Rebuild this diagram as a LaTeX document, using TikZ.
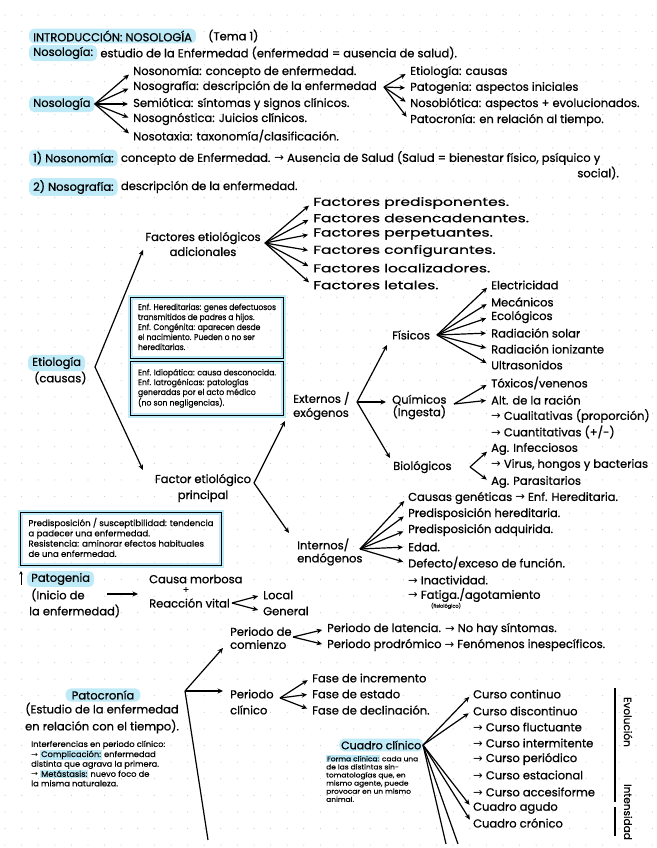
\documentclass[tikz,border=0pt]{standalone}
\usepackage{fontspec}
\usepackage{graphicx}
\setmainfont{Poppins}[FakeBold=0.8]
\newfontfamily\djv{DejaVu Sans}
\newfontfamily\wide{Poppins}[FakeStretch=1.35,FakeBold=0.8]
\newfontfamily\smf{Poppins}[FakeBold=0.5]
\usetikzlibrary{arrows.meta,calc}
\definecolor{hlc}{HTML}{BFEAF7}
\newcommand\myfs[2]{\fontsize{#1}{#2}\selectfont}
\newcommand\ra{{\djv\char"2192}}
\newcommand\hlw[1]{{\setlength{\fboxsep}{0.8pt}\colorbox{hlc}{#1}}}
\newcommand\fitbox[3]{\resizebox*{#1}{#2}{\smf\myfs{7}{8.4}\begin{tabular}{@{}l@{}}#3\end{tabular}}}
\begin{document}
\begin{tikzpicture}[x=1pt,y=-1pt,
  tx/.style={anchor=west,inner sep=1pt,font=\myfs{11.5}{14}},
  wtx/.style={anchor=west,inner sep=1pt,font=\wide\myfs{11.5}{14}},
  hl/.style={fill=hlc,rounded corners=5pt,inner xsep=4pt,inner ysep=2pt},
  sm/.style={anchor=north west,inner sep=0pt},
  arr/.style={-{Stealth[length=5.5pt,width=5pt]},line width=1.2pt},
  farr/.style={arr,shorten >=4pt},
  ln/.style={line width=1.2pt},
  bx/.style={draw=black,line width=1pt,preaction={draw=hlc,line width=5pt},anchor=north west},
]
\fill[white] (0,0) rectangle (656,848);
\useasboundingbox (0,0) rectangle (656,848);
\foreach \i in {0,...,39}{\foreach \j in {0,...,51}{\fill[gray!40] (5+16.6*\i,-1.5+16.6*\j) circle[radius=0.6pt];}}

% ---------- title ----------
\node[tx,hl,font=\myfs{11.5}{12}] (title) at (29,36) {INTRODUCCIÓN: NOSOLOGÍA};
\node[tx] (tema) at (207,36) {(Tema 1)};
\node[tx,hl] (nsl) at (29,53) {Nosología:};
\node[tx] (nslb) at ($(nsl.east)+(2,0)$) {estudio de la Enfermedad (enfermedad = ausencia de salud).};

% ---------- Nosologia fan ----------
\node[tx,hl] (nos) at (29,104) {Nosología};
\node[tx] (a1) at (132,72) {Nosonomía: concepto de enfermedad.};
\node[tx] (a2) at (132,87) {Nosografía: descripción de la enfermedad};
\node[tx] (a3) at (132,104) {Semiótica: síntomas y signos clínicos.};
\node[tx] (a4) at (132,119) {Nosognóstica: Juicios clínicos.};
\node[tx] (a5) at (132,136) {Nosotaxia: taxonomía/clasificación.};
\foreach \t in {a1,a2,a3,a4,a5}{\draw[farr] (nos.east) -- (\t.west);}
\coordinate (v2) at ($(a2.east)+(6,0)$);
\node[tx] (b1) at (409,72) {Etiología: causas};
\node[tx] (b2) at (409,88) {Patogenia: aspectos iniciales};
\node[tx] (b3) at (409,104) {Nosobiótica: aspectos + evolucionados.};
\node[tx] (b4) at (409,120) {Patocronía: en relación al tiempo.};
\foreach \t in {b1,b2,b3,b4}{\draw[farr] (v2) -- (\t.west);}

% ---------- 1) 2) ----------
\node[tx,hl] (l1) at (29,158) {1) Nosonomía:};
\node[tx] (l1b) at ($(l1.east)+(2,0)$) {concepto de Enfermedad. \ra{} Ausencia de Salud (Salud = bienestar físico, psíquico y};
\node[tx,anchor=east] (l1c) at (620,173) {social).};
\node[tx,hl] (l2) at (29,187) {2) Nosografía:};
\node[tx] (l2b) at ($(l2.east)+(2,0)$) {descripción de la enfermedad.};

% ---------- Factores adicionales ----------
\node[inner sep=1pt,align=center,font=\myfs{11.5}{15}] (fea) at (203,244) {Factores etiológicos\\adicionales};
\coordinate (fv) at (265,243);
\node[wtx] (f1) at (312,203) {Factores predisponentes.};
\node[wtx] (f2) at (312,218) {Factores desencadenantes.};
\node[wtx] (f3) at (312,234) {Factores perpetuantes.};
\node[wtx] (f4) at (312,251) {Factores configurantes.};
\node[wtx] (f5) at (312,268) {Factores localizadores.};
\node[wtx] (f6) at (312,285) {Factores letales.};
\foreach \t in {f1,f2,f3,f4,f5,f6}{\draw[farr] (fv) -- (\t.west);}

% ---------- Etiologia ----------
\node[tx,hl] (eti) at (28,363) {Etiología};
\node[tx] (eti2) at (33,378) {(causas)};
\coordinate (ev) at (95,367);
\coordinate (tfea) at (143,250);
\coordinate (tfep) at (143,470);
\draw[arr] (ev) -- (tfea);
\draw[arr] (ev) -- (tfep);

\node[bx,inner xsep=7.5pt,inner ysep=5.5pt] (bx1) at (130,297) {\fitbox{138pt}{50pt}{Enf. Hereditarias: genes defectuosos\\transmitidos de padres a hijos.\\Enf. Congénita: aparecen desde\\el nacimiento. Pueden o no ser\\hereditarias.}};
\node[bx,inner xsep=7.5pt,inner ysep=7pt] (bx2) at (130,361) {\fitbox{138pt}{40pt}{Enf. Idiopática: causa desconocida.\\Enf. Iatrogénicas: patologías\\generadas por el acto médico\\(no son negligencias).}};

% ---------- Factor principal ----------
\node[inner sep=1pt,align=center,font=\myfs{11.5}{16}] (fep) at (203,488) {Factor etiológico\\principal};
\coordinate (pv0) at (254,483);
\coordinate (text) at (285,421);
\coordinate (tint) at (289,533);
\draw[arr] (pv0) -- (text);
\draw[arr] (pv0) -- (tint);

% ---------- Externos ----------
\node[tx,align=left,font=\myfs{11.5}{14}] (ext) at (292,406) {Externos /\\exógenos};
\coordinate (xv) at (357,402);
\coordinate (tfis) at (387,345);
\coordinate (tqui) at (386,402);
\coordinate (tbio) at (390,458);
\draw[arr] (xv) -- (tfis);
\draw[arr] (xv) -- (tqui);
\draw[arr] (xv) -- (tbio);

\node[tx] (fis) at (391,335) {Físicos};
\coordinate (fsv) at (437,335);
\node[tx] (g1) at (490,285) {Electricidad};
\node[tx] (g2) at (490,302) {Mecánicos};
\node[tx] (g3) at (490,317) {Ecológicos};
\node[tx] (g4) at (490,333) {Radiación solar};
\node[tx] (g5) at (490,349) {Radiación ionizante};
\node[tx] (g6) at (490,365) {Ultrasonidos};
\foreach \t in {g1,g2,g3,g4,g5,g6}{\draw[farr] (fsv) -- (\t.west);}

\node[tx,align=center,font=\myfs{11.5}{12.5}] (qui) at (391,407) {Químicos\\(Ingesta)};
\coordinate (qv) at (454,404);
\node[tx] (h1) at (490,383) {Tóxicos/venenos};
\node[tx] (h2) at (490,400) {Alt. de la ración};
\node[tx] (h3) at (490,416) {\ra{} Cualitativas (proporción)};
\node[tx] (h4) at (490,432) {\ra{} Cuantitativas (+/-)};
\draw[farr] (qv) -- (h1.west);
\draw[farr] (qv) -- (h2.west);

\node[tx] (bio) at (392,467) {Biológicos};
\coordinate (bv) at (470,467);
\node[tx] (h5) at (490,449) {Ag. Infecciosos};
\node[tx] (h6) at (490,465) {\ra{} Virus, hongos y bacterias};
\node[tx] (h7) at (490,482) {Ag. Parasitarios};
\draw[farr] (bv) -- (h5.west);
\draw[farr] (bv) -- (h7.west);

% ---------- Internos ----------
\node[tx,align=left,font=\myfs{11.5}{13}] (int) at (296,552) {Internos/\\endógenos};
\coordinate (iv) at (360,549);
\node[tx] (i1) at (407,498) {Causas genéticas \ra{} Enf. Hereditaria.};
\node[tx] (i2) at (407,514) {Predisposición hereditaria.};
\node[tx] (i3) at (407,530) {Predisposición adquirida.};
\node[tx] (i4) at (407,547) {Edad.};
\node[tx] (i5) at (407,563) {Defecto/exceso de función.};
\node[tx] (i6) at (407,580) {\ra{} Inactividad.};
\node[tx] (i7) at (407,595) {\ra{} Fatiga./agotamiento};
\node[inner sep=0pt,font=\smf\myfs{5}{6}] (i8) at (446,606) {(fisiológico)};
\foreach \t in {i1,i2,i3,i4,i5}{\draw[farr] (iv) -- (\t.west);}

% ---------- Patogenia ----------
\node[bx,inner xsep=8pt,inner ysep=5.5pt] (bx3) at (20,512) {\fitbox{185pt}{42pt}{Predisposición / susceptibilidad: tendencia\\a padecer una enfermedad.\\Resistencia: aminorar efectos habituales\\de una enfermedad.}};
\node[tx,hl] (pat) at (27,579) {Patogenia};
\coordinate (pu1) at (21,585);
\coordinate (pu2) at (21,571);
\draw[-{Stealth[length=3.5pt,width=3.5pt]},line width=1pt] (pu1) -- (pu2);
\node[tx] (pat2) at (30,595) {(Inicio de};
\node[tx] (pat3) at (28,611) {la enfermedad)};
\coordinate (pa1) at (107,594);
\coordinate (pa2) at (138,594);
\draw[arr] (pa1) -- (pa2);
\node[tx] (cm) at (148,579) {Causa morbosa};
\node[inner sep=0pt,font=\myfs{9}{10}] (pl) at (186,590) {+};
\node[tx] (rv) at (148,603) {Reacción vital};
\coordinate (rvv) at (232,603);
\node[tx] (loc) at (262,595) {Local};
\node[tx] (gen) at (262,611) {General};
\draw[farr] (rvv) -- (loc.west);
\draw[farr] (rvv) -- (gen.west);

% ---------- Patocronia ----------
\node[hl,inner sep=2pt,inner xsep=6pt,font=\myfs{11.5}{14}] (pcr) at (103,695) {Patocronía};
\node[inner sep=1pt,align=center,font=\myfs{11.5}{17}] (pcr2) at (102,718) {(Estudio de la enfermedad\\en relación con el tiempo).};
\node[sm] (inf) at (31,740) {\fitbox{134pt}{49pt}{Interferencias en periodo clínico:\\\ra{} \hlw{Complicación:} enfermedad\\distinta que agrava la primera.\\\ra{} \hlw{Metástasis:} nuevo foco de\\la misma naturaleza.}};

\coordinate (pv) at (185,691);
\coordinate (tpc) at (223,648);
\coordinate (tpcl) at (223,691);
\coordinate (pend) at (208,840);
\draw[arr] (pv) -- (tpc);
\draw[arr] (pv) -- (tpcl);
\draw[ln] (pv) -- (pend);

\node[tx,align=left,font=\myfs{11.5}{13}] (pc) at (229,638) {Periodo de\\comienzo};
\coordinate (pcv) at (293,637);
\node[tx] (pc1) at (326,629) {Periodo de latencia. \ra{} No hay síntomas.};
\node[tx] (pc2) at (326,645) {Periodo prodrómico \ra{} Fenómenos inespecíficos.};
\draw[farr] (pcv) -- (pc1.west);
\draw[farr] (pcv) -- (pc2.west);

\node[tx,align=left,font=\myfs{11.5}{16}] (pcl) at (229,702) {Periodo\\clínico};
\coordinate (pclv) at (280,698);
\node[tx] (fa1) at (311,678) {Fase de incremento};
\node[tx] (fa2) at (311,694) {Fase de estado};
\node[tx] (fa3) at (311,710) {Fase de declinación.};
\foreach \t in {fa1,fa2,fa3}{\draw[farr] (pclv) -- (\t.west);}

% ---------- Cuadro clinico ----------
\node[tx,hl,inner xsep=2pt,font=\myfs{11}{14}] (cc) at (339,745) {Cuadro clínico};
\coordinate (ccv) at (423,745);
\node[sm] (fc) at (326,755) {\fitbox{92pt}{49pt}{\hlw{Forma clínica:} cada una\\de las distintas sin-\\tomatologías que, en\\mismo agente, puede\\provocar en un mismo\\animal.}};
\node[tx] (c1) at (472,694) {Curso continuo};
\node[tx] (c2) at (472,711) {Curso discontinuo};
\node[tx] (c3) at (472,727) {\ra{} Curso fluctuante};
\node[tx] (c4) at (472,743) {\ra{} Curso intermitente};
\node[tx] (c5) at (472,759) {\ra{} Curso periódico};
\node[tx] (c6) at (472,775) {\ra{} Curso estacional};
\node[tx] (c7) at (472,792) {\ra{} Curso accesiforme};
\node[tx] (c8) at (472,808) {Cuadro agudo};
\node[tx] (c9) at (472,823) {Cuadro crónico};
\foreach \t in {c1,c2,c8,c9}{\draw[farr] (ccv) -- (\t.west);}
\coordinate (ce1) at (446,844);
\coordinate (ce2) at (458,844);
\draw[ln] (ccv) -- (ce1);
\draw[ln] (ccv) -- (ce2);

\coordinate (vl1) at (615,688);
\coordinate (vl2) at (615,802);
\coordinate (vl3) at (615,807);
\coordinate (vl4) at (615,836);
\draw[ln] (vl1) -- (vl2);
\draw[ln] (vl3) -- (vl4);
\node[rotate=-90,inner sep=0pt,font=\myfs{10.5}{12}] (evo) at (628,722) {Evolución};
\node[rotate=-90,inner sep=0pt,font=\myfs{10.5}{12}] (inten) at (628,812) {Intensidad};
\end{tikzpicture}
\end{document}
